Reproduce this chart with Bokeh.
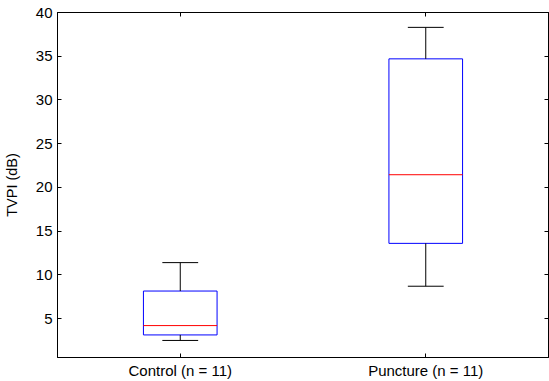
import numpy as np
from bokeh.plotting import figure
from bokeh.models import LinearAxis, FixedTicker, Range1d
from bokeh.embed import file_html
from bokeh.resources import INLINE

categories = ["Control (n = 11)", "Puncture (n = 11)"]
lower_whisker = [2.5, 8.7]
q1 = [3.13, 13.6]
median = [4.2, 21.45]
q3 = [8.15, 34.7]
upper_whisker = [11.4, 38.3]
y_ticks = [5, 10, 15, 20, 25, 30, 35, 40]

pos = np.arange(1, len(categories) + 1)
box_half = 0.15
cap_half = 0.073

FONT = "Liberation Sans"

p = figure(width=549, height=381, output_backend="svg", toolbar_location=None,
           x_range=Range1d(0.5, 2.5), y_range=Range1d(0.55, 40),
           min_border_left=57, min_border_right=1, min_border_top=12, min_border_bottom=23)
p.grid.visible = False
p.background_fill_color = "white"
p.border_fill_color = "white"
p.outline_line_color = "black"
p.outline_line_width = 1

# boxes
p.quad(left=pos - box_half, right=pos + box_half, bottom=q1, top=q3,
       fill_color=None, line_color="#0000FF", line_width=1)
# medians
p.segment(x0=pos - box_half, x1=pos + box_half, y0=median, y1=median,
          line_color="#FF0000", line_width=1)
# whiskers
p.segment(x0=pos, x1=pos, y0=q3, y1=upper_whisker, line_color="black", line_width=1)
p.segment(x0=pos, x1=pos, y0=q1, y1=lower_whisker, line_color="black", line_width=1)
# caps
p.segment(x0=pos - cap_half, x1=pos + cap_half, y0=upper_whisker, y1=upper_whisker,
          line_color="black", line_width=1)
p.segment(x0=pos - cap_half, x1=pos + cap_half, y0=lower_whisker, y1=lower_whisker,
          line_color="black", line_width=1)

def style(ax):
    ax.major_tick_in = 4
    ax.major_tick_out = 0
    ax.minor_tick_line_color = None
    ax.axis_line_color = "black"
    ax.major_tick_line_color = "black"
    ax.major_label_text_font = FONT
    ax.major_label_text_font_size = "15px"
    ax.major_label_text_color = "black"

xa = p.xaxis[0]
xa.ticker = FixedTicker(ticks=list(pos))
xa.major_label_overrides = {int(k): c for k, c in zip(pos, categories)}
style(xa)
xa.major_label_standoff = 4

ya = p.yaxis[0]
ya.ticker = FixedTicker(ticks=y_ticks)
style(ya)
ya.axis_label = "TVPI (dB)"
ya.axis_label_text_font = FONT
ya.axis_label_text_font_size = "14.5px"
ya.axis_label_text_font_style = "normal"
ya.axis_label_text_color = "black"
ya.axis_label_standoff = 13
ya.major_label_standoff = 5

top = LinearAxis(ticker=FixedTicker(ticks=list(pos)))
style(top)
top.major_label_overrides = {int(k): "" for k in pos}
top.major_label_standoff = 0
p.add_layout(top, "above")

right = LinearAxis(ticker=FixedTicker(ticks=y_ticks))
style(right)
right.major_label_overrides = {t: "" for t in y_ticks}
right.major_label_standoff = 0
p.add_layout(right, "right")

open("out.html", "w").write(file_html(p, INLINE))
